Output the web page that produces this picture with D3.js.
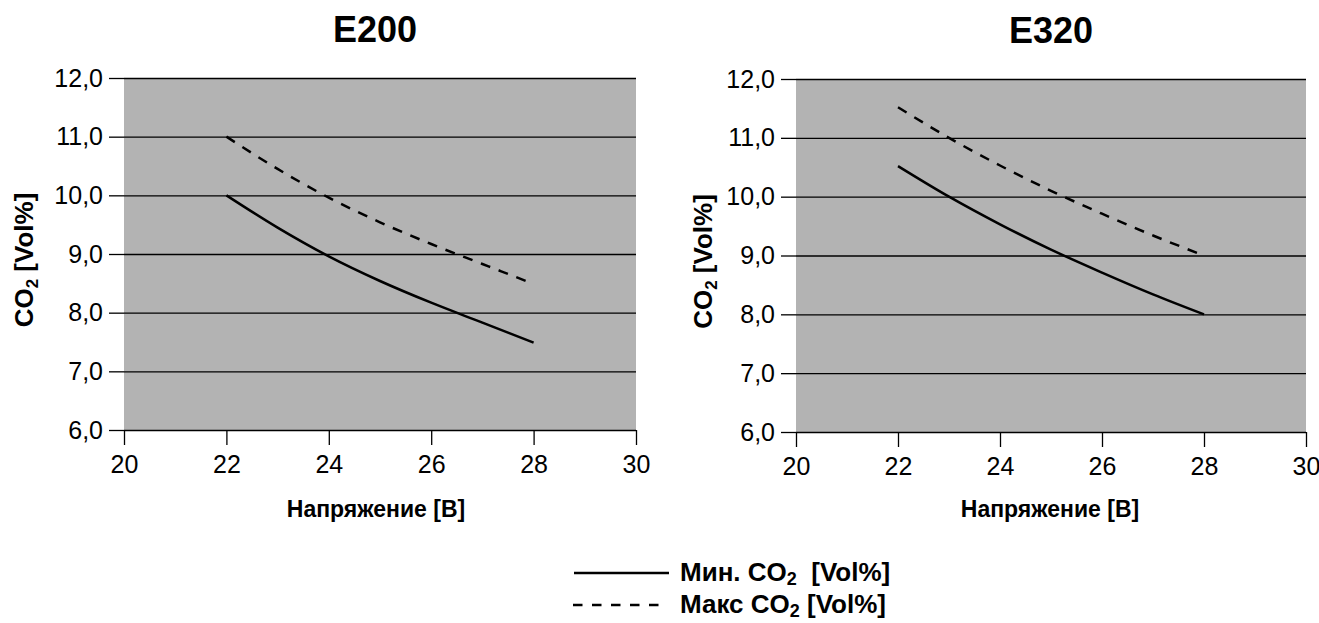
<!DOCTYPE html>
<html>
<head>
<meta charset="utf-8">
<script src="https://cdn.jsdelivr.net/npm/d3@7"></script>
<style>
  body { margin: 0; background: #fff; }
  svg text { font-family: "Liberation Sans", Arial, sans-serif; fill: #000; }
</style>
</head>
<body>
<svg id="chart" width="1319" height="623"></svg>
<script>
// voltage steps
const voltage = [22, 23, 24, 25, 26, 27, 28];
// CO2 values [Vol%] per chart
const e200Min = [10.0, 9.45, 8.96, 8.54, 8.17, 7.83, 7.49];
const e200Max = [11.0, 10.45, 9.96, 9.54, 9.17, 8.83, 8.49];
const e320Min = [10.52, 10.0, 9.53, 9.10, 8.71, 8.34, 8.0];
const e320Max = [11.52, 11.0, 10.53, 10.10, 9.71, 9.34, 9.0];
// axes
const xTicks = [20, 22, 24, 26, 28, 30];
const yTicks = [6, 7, 8, 9, 10, 11, 12];
const chartTitles = ["E200", "E320"];
const xTitle = "Напряжение [B]";
const legendNames = ["Мин. CO", "Макс CO"];
const legendUnits = ["  [Vol%]", " [Vol%]"];

const svg = d3.select("#chart");
const fmt = d3.formatLocale({decimal: ",", thousands: " ", grouping: [3], currency: ["", ""]}).format(".1f");

//layout of the two panels
const panels = [
  {title: chartTitles[0], min: e200Min, max: e200Max, x0: 124, x1: 636, y0: 78, y1: 430, titleX: 375, titleY: 42, xTitleX: 376, yTitleX: 33},
  {title: chartTitles[1], min: e320Min, max: e320Max, x0: 796, x1: 1306, y0: 79, y1: 432, titleX: 1051, titleY: 43, xTitleX: 1050, yTitleX: 712}
];

panels.forEach(p => {
  const x = d3.scaleLinear().domain([20, 30]).range([p.x0, p.x1]);
  const y = d3.scaleLinear().domain([6, 12]).range([p.y1, p.y0]);
  const g = svg.append("g");

  // grey plot area
  g.append("rect")
    .attr("x", p.x0).attr("y", p.y0)
    .attr("width", p.x1 - p.x0).attr("height", p.y1 - p.y0)
    .attr("fill", "#b3b3b3");

  // horizontal grid lines + y axis
  const yAxis = d3.axisLeft(y)
    .tickValues(yTicks)
    .tickSize(-(p.x1 - p.x0))
    .tickSizeOuter(0)
    .tickFormat(fmt);
  const ya = g.append("g").attr("transform", "translate(" + p.x0 + ",0)").call(yAxis);
  ya.select(".domain").remove();
  ya.selectAll(".tick line").attr("stroke", "#000").attr("stroke-width", 1.3);
  ya.selectAll(".tick").append("line")
    .attr("x1", -15).attr("x2", 0)
    .attr("stroke", "#000").attr("stroke-width", 1.3);
  ya.selectAll(".tick text")
    .attr("x", -21)
    .attr("font-size", 25)
    .attr("font-family", null);

  // x axis
  const xAxis = d3.axisBottom(x)
    .tickValues(xTicks)
    .tickSize(15)
    .tickSizeOuter(0)
    .tickFormat(d3.format("d"));
  const xa = g.append("g").attr("transform", "translate(0," + p.y1 + ")").call(xAxis);
  xa.select(".domain").remove();
  xa.selectAll(".tick line").attr("stroke", "#000").attr("stroke-width", 1.3);
  xa.selectAll(".tick text")
    .attr("y", 25)
    .attr("font-size", 25)
    .attr("font-family", null);

  // curves
  const line = d3.line()
    .x((d, i) => x(voltage[i]))
    .y(d => y(d))
    .curve(d3.curveMonotoneX);
  g.append("path").datum(p.min)
    .attr("d", line)
    .attr("fill", "none").attr("stroke", "#000").attr("stroke-width", 2.5);
  g.append("path").datum(p.max)
    .attr("d", line)
    .attr("fill", "none").attr("stroke", "#000").attr("stroke-width", 2.5)
    .attr("stroke-dasharray", "10,9");

  // titles
  g.append("text")
    .attr("x", p.titleX).attr("y", p.titleY)
    .attr("text-anchor", "middle")
    .attr("font-size", 36).attr("font-weight", "bold")
    .text(p.title);
  g.append("text")
    .attr("x", p.xTitleX).attr("y", 517)
    .attr("text-anchor", "middle")
    .attr("font-size", 23).attr("font-weight", "bold")
    .text(xTitle);
  const yt = g.append("text")
    .attr("transform", "translate(" + p.yTitleX + "," + ((p.y0 + p.y1) / 2 + 6) + ") rotate(-90)")
    .attr("text-anchor", "middle")
    .attr("font-size", 26).attr("font-weight", "bold");
  yt.append("tspan").text("CO");
  yt.append("tspan").attr("font-size", 17).attr("dy", 5).text("2");
  yt.append("tspan").attr("dy", -5).text(" [Vol%]");
});

// legend
const legend = svg.append("g");
const legendRows = [
  {y: 573, x1: 574, x2: 669, dash: null},
  {y: 605, x1: 573, x2: 663, dash: "9.5,9.5"}
];
legendRows.forEach((r, i) => {
  legend.append("line")
    .attr("x1", r.x1).attr("x2", r.x2)
    .attr("y1", r.y).attr("y2", r.y)
    .attr("stroke", "#000").attr("stroke-width", 2.6)
    .attr("stroke-dasharray", r.dash);
  const t = legend.append("text")
    .attr("x", 680).attr("y", r.y + 8)
    .attr("font-size", 26).attr("font-weight", "bold")
    .attr("xml:space", "preserve")
    .style("white-space", "pre");
  t.append("tspan").text(legendNames[i]);
  t.append("tspan").attr("font-size", 18).attr("dy", 4).text("2");
  t.append("tspan").attr("dy", -4).text(legendUnits[i]);
});
</script>
</body>
</html>
